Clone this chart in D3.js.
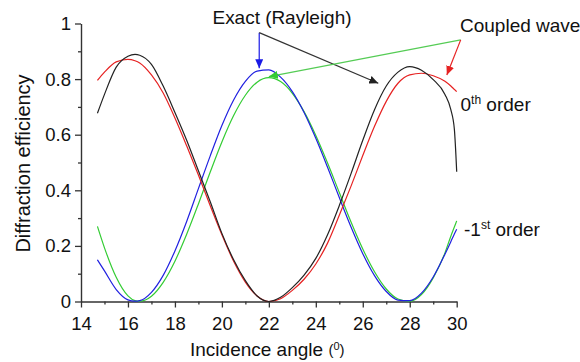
<!DOCTYPE html>
<html><head><meta charset="utf-8">
<script src="https://cdn.jsdelivr.net/npm/d3@7/dist/d3.min.js"></script>
<style>
html,body{margin:0;padding:0;background:#fff;}
svg{display:block;font-family:"Liberation Sans",Arial,sans-serif;}
</style></head>
<body>
<svg id="chart" width="580" height="362"></svg>
<script>
// ---- data ----
const angles = [14.7,15,15.5,16,16.3,16.5,17,17.5,18,18.5,19,19.5,20,20.5,21,21.5,22,22.5,23,23.5,24,24.5,25,25.5,26,26.5,27,27.5,28,28.5,29,29.5,29.75,29.9,30];
const exact0 = [.677,.745,.843,.882,.889,.886,.853,.775,.68,.58,.47,.36,.245,.15,.075,.02,0,.015,.05,.095,.155,.24,.345,.46,.58,.69,.775,.825,.845,.832,.798,.745,.69,.62,.467];
const coupled0 = [.795,.825,.862,.871,.866,.858,.815,.75,.66,.56,.455,.345,.24,.145,.07,.02,0,.01,.04,.08,.135,.21,.31,.415,.525,.63,.72,.785,.815,.821,.812,.792,.775,.763,.755];
const exactM1 = [.15,.11,.043,.006,.001,.003,.033,.094,.182,.288,.406,.523,.633,.725,.792,.829,.833,.807,.755,.68,.587,.483,.374,.268,.172,.093,.036,.005,.003,.03,.088,.17,.215,.243,.26];
const coupledM1 = [.27,.193,.087,.02,.003,.001,.019,.069,.145,.242,.351,.465,.574,.669,.742,.789,.805,.791,.749,.683,.597,.498,.392,.286,.189,.107,.045,.009,.001,.025,.085,.175,.235,.268,.29];
const xTicks = [14,16,18,20,22,24,26,28,30];
const xMinor = [15,17,19,21,23,25,27,29];
const yTicks = [0,0.2,0.4,0.6,0.8,1];
const yMinor = [0.1,0.3,0.5,0.7,0.9];
// annotation anchors in data units [angle, efficiency]
const rayleighFrom = [21.59,0.967];
const rayleighTips = [[21.59,0.839],[26.66,0.785]];
const coupledFrom = [30.17,0.941];
const coupledTips = [[22.0,0.809],[29.58,0.815]];

const svg = d3.select("#chart");
const x = d3.scaleLinear().domain([14,30]).range([81,456.7]);
const y = d3.scaleLinear().domain([0,1]).range([301.5,23.5]);
const axisColor = "#333";
const txt = "#111";

// markers
const defs = svg.append("defs");
function marker(id,color){
  defs.append("marker").attr("id",id).attr("markerUnits","userSpaceOnUse")
    .attr("markerWidth",10).attr("markerHeight",8).attr("refX",9).attr("refY",4)
    .attr("orient","auto")
    .append("path").attr("d","M0,0L9,4L0,8Z").attr("fill",color);
}
marker("mBlue","#1a1ae6"); marker("mBlack","#222"); marker("mGreen","#3c3"); marker("mRed","#e62222");

// axes
function styleAxis(g){
  g.select(".domain").attr("stroke",axisColor).attr("stroke-width",1.4);
  g.selectAll(".tick line").attr("stroke",axisColor).attr("stroke-width",1.3);
  g.selectAll("text").attr("fill",txt).attr("font-size",18.5).attr("font-family","Liberation Sans, Arial, sans-serif");
}
const gx = svg.append("g").attr("transform",`translate(0,${y(0)})`)
  .call(d3.axisBottom(x).tickValues(xTicks).tickSize(6).tickPadding(9).tickSizeOuter(0).tickFormat(d3.format("d")));
styleAxis(gx);
const gxm = svg.append("g").attr("transform",`translate(0,${y(0)})`)
  .call(d3.axisBottom(x).tickValues(xMinor).tickSize(3).tickFormat(""));
gxm.select(".domain").remove(); gxm.selectAll(".tick line").attr("stroke",axisColor).attr("stroke-width",1.3);

const gy = svg.append("g").attr("transform",`translate(${x(14)},0)`)
  .call(d3.axisLeft(y).tickValues(yTicks).tickSize(6).tickPadding(4).tickSizeOuter(0).tickFormat(d=>d===0||d===1?String(d):d3.format(".1f")(d)));
styleAxis(gy);
const gym = svg.append("g").attr("transform",`translate(${x(14)},0)`)
  .call(d3.axisLeft(y).tickValues(yMinor).tickSize(3).tickFormat(""));
gym.select(".domain").remove(); gym.selectAll(".tick line").attr("stroke",axisColor).attr("stroke-width",1.3);

// curves
const line = d3.line().x((d,i)=>x(angles[i])).y(d=>y(Math.max(0,d))).curve(d3.curveMonotoneX);
const series = [
  {v:coupledM1,c:"#33cc33"},
  {v:exactM1,c:"#2020e0"},
  {v:coupled0,c:"#e62222"},
  {v:exact0,c:"#222"}
];
svg.append("g").selectAll("path").data(series).join("path")
  .attr("d",d=>line(d.v)).attr("fill","none").attr("stroke",d=>d.c).attr("stroke-width",1.2);

// annotation arrows
const ann = svg.append("g").attr("fill","none").attr("stroke-width",1.2);
ann.append("line").attr("x1",x(rayleighFrom[0])).attr("y1",y(rayleighFrom[1]))
  .attr("x2",x(rayleighTips[0][0])).attr("y2",y(rayleighTips[0][1])).attr("stroke","#1a1ae6").attr("marker-end","url(#mBlue)");
ann.append("line").attr("x1",x(rayleighFrom[0])).attr("y1",y(rayleighFrom[1]))
  .attr("x2",x(rayleighTips[1][0])).attr("y2",y(rayleighTips[1][1])).attr("stroke","#333").attr("marker-end","url(#mBlack)");
ann.append("line").attr("x1",x(coupledFrom[0])).attr("y1",y(coupledFrom[1]))
  .attr("x2",x(coupledTips[0][0])).attr("y2",y(coupledTips[0][1])).attr("stroke","#55cc55").attr("marker-end","url(#mGreen)");
ann.append("line").attr("x1",x(coupledFrom[0])).attr("y1",y(coupledFrom[1]))
  .attr("x2",x(coupledTips[1][0])).attr("y2",y(coupledTips[1][1])).attr("stroke","#e62222").attr("marker-end","url(#mRed)");

// texts
const T = svg.append("g").attr("fill",txt).attr("font-size",19);
T.append("text").attr("x",212.5).attr("y",23.5).attr("textLength",139).text("Exact (Rayleigh)");
T.append("text").attr("x",460).attr("y",31.5).text("Coupled wave");
const t0 = T.append("text").attr("x",460.5).attr("y",110.5);
t0.append("tspan").text("0");
t0.append("tspan").attr("font-size",12).attr("dy",-7).text("th");
t0.append("tspan").attr("dy",7).text(" order");
const t1 = T.append("text").attr("x",464).attr("y",236);
t1.append("tspan").text("-1");
t1.append("tspan").attr("font-size",12).attr("dy",-7).text("st");
t1.append("tspan").attr("dy",7).text(" order");
const xl = T.append("text").attr("x",190).attr("y",356);
xl.append("tspan").text("Incidence angle ");
xl.append("tspan").attr("font-size",15).attr("dy",-1).text("(");
xl.append("tspan").attr("font-size",11).attr("dy",-5).text("0");
xl.append("tspan").attr("font-size",15).attr("dy",5).text(")");
T.append("text").attr("transform","translate(30,163.5) rotate(-90)").attr("text-anchor","middle").attr("font-size",20).text("Diffraction efficiency");
</script>
</body></html>
